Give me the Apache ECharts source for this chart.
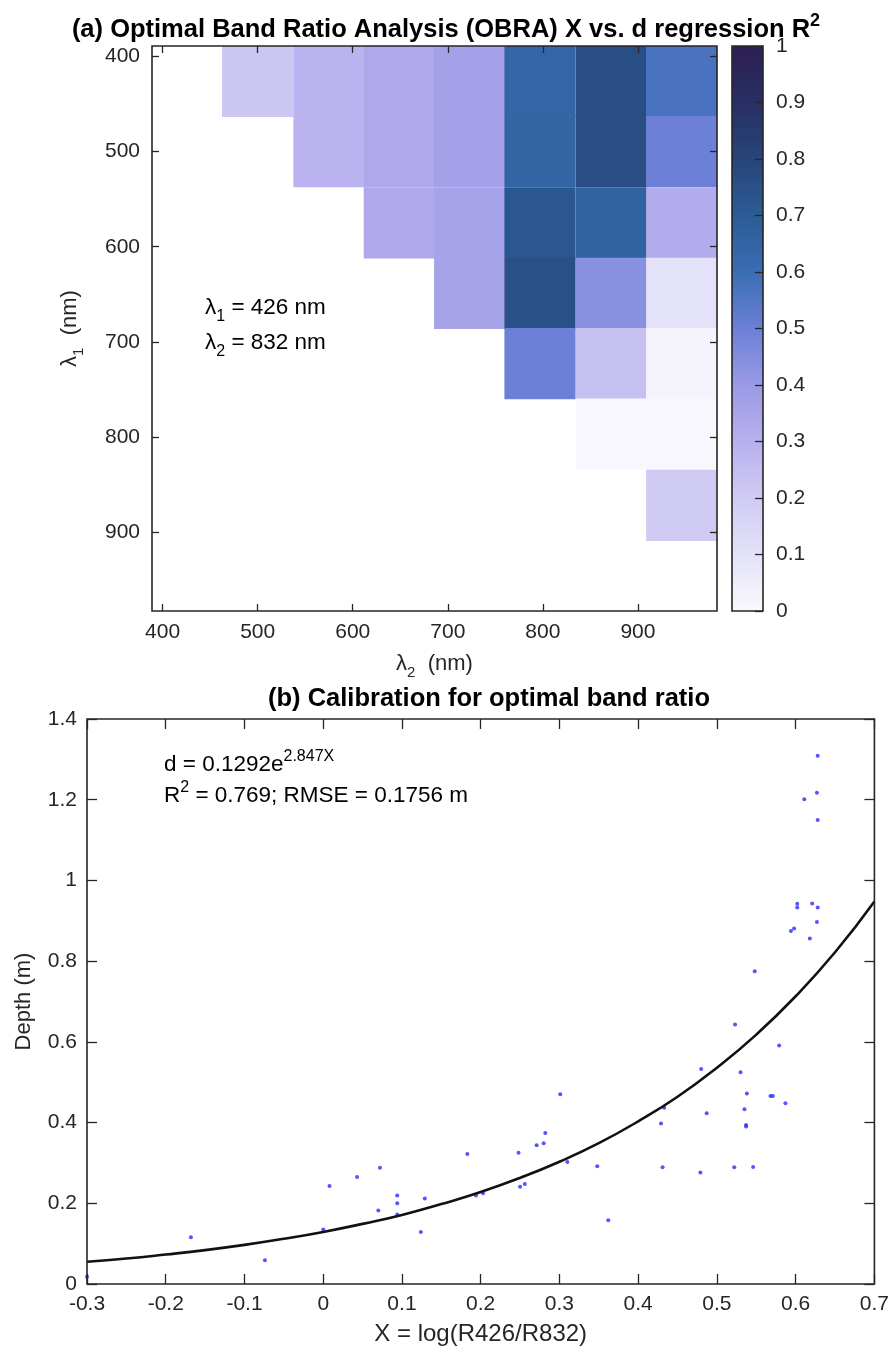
<!DOCTYPE html>
<html>
<head>
<meta charset="utf-8">
<title>OBRA</title>
<script src="https://cdn.jsdelivr.net/npm/echarts@6/dist/echarts.min.js"></script>
<style>
html, body { margin: 0; padding: 0; background: #fff; }
#main { width: 892px; height: 1349px; }
</style>
</head>
<body>
<div id="main"></div>
<script>
// band centres (nm), same set for lambda1 (rows) and lambda2 (columns)
var bands = [426, 500, 575, 649, 723, 797, 872, 946];
// R^2 of the X vs d regression, one row per lambda1, one column per lambda2
var r2Rows = [
  [null, 0.22, 0.29, 0.33, 0.37, 0.64, 0.76, 0.57],
  [null, null, 0.29, 0.33, 0.37, 0.65, 0.76, 0.50],
  [null, null, null, 0.33, 0.36, 0.72, 0.66, 0.32],
  [null, null, null, null, 0.36, 0.75, 0.44, 0.10],
  [null, null, null, null, null, 0.50, 0.24, 0.02],
  [null, null, null, null, null, null, 0.01, 0.01],
  [null, null, null, null, null, null, null, 0.20],
  [null, null, null, null, null, null, null, null]
];
var bandTicks = [400, 500, 600, 700, 800, 900];

// colormap of the colour bar, 0 -> 1
var cmap = ['#f9f9fe', '#e4e2f8', '#d0cbf3', '#b8b0ee', '#9b9ae6', '#6b80d6',
            '#3a6db3', '#2b5c95', '#27457a', '#282f63', '#2e1f52'];

// calibration samples: X = log(R426/R832), depth d (m)
var xObs = [-0.300, -0.168, -0.074, 0.000, 0.008, 0.043, 0.072, 0.070, 0.094, 0.094,
            0.094, 0.124, 0.129, 0.183, 0.194, 0.203, 0.248, 0.250, 0.256, 0.271,
            0.280, 0.282, 0.301, 0.310, 0.348, 0.362, 0.429, 0.431, 0.433, 0.479,
            0.480, 0.487, 0.522, 0.523, 0.530, 0.535, 0.537, 0.537, 0.538, 0.546,
            0.548, 0.568, 0.571, 0.579, 0.587, 0.594, 0.598, 0.602, 0.602, 0.611,
            0.618, 0.621, 0.627, 0.627, 0.628, 0.628, 0.628];
var dObs = [0.018, 0.116, 0.059, 0.135, 0.243, 0.265, 0.288, 0.182, 0.219, 0.200,
            0.172, 0.129, 0.212, 0.322, 0.219, 0.225, 0.325, 0.241, 0.248, 0.344,
            0.349, 0.374, 0.470, 0.302, 0.292, 0.158, 0.398, 0.289, 0.437, 0.276,
            0.533, 0.423, 0.289, 0.643, 0.525, 0.433, 0.394, 0.390, 0.472, 0.290,
            0.775, 0.466, 0.466, 0.591, 0.448, 0.875, 0.881, 0.942, 0.933, 1.201,
            0.856, 0.943, 1.217, 0.897, 1.309, 1.150, 0.933];

// fitted curve
var xFit = [-0.30, -0.25, -0.20, -0.15, -0.10, -0.05, 0.00, 0.05, 0.10, 0.15, 0.20,
            0.25, 0.30, 0.35, 0.40, 0.45, 0.50, 0.55, 0.60, 0.65, 0.70];
var dFit = [0.055, 0.063, 0.073, 0.084, 0.097, 0.112, 0.129, 0.149, 0.171, 0.198, 0.228,
            0.263, 0.303, 0.349, 0.403, 0.464, 0.536, 0.618, 0.713, 0.822, 0.948];

var FONT = '"Liberation Sans", Arial, Helvetica, sans-serif';
var INK = '#262626';

var step = (bands[bands.length - 1] - bands[0]) / (bands.length - 1);
var bandMin = bands[0] - step / 2;
var bandMax = bands[bands.length - 1] + step / 2;

var cells = [];
for (var i = 0; i < r2Rows.length; i++) {
  for (var j = 0; j < r2Rows[i].length; j++) {
    if (r2Rows[i][j] != null) cells.push([bands[j], bands[i], r2Rows[i][j]]);
  }
}
var obs = xObs.map(function (x, k) { return [x, dObs[k]]; });
var fit = xFit.map(function (x, k) { return [x, dFit[k]]; });

// rich styles for sub / superscripts
function richSet(size) {
  var small = Math.round(size * 0.7);
  return {
    m: { fontSize: size, fontFamily: FONT, color: INK, lineHeight: size + 10 },
    b: { fontSize: size, fontFamily: FONT, color: INK, lineHeight: size + 10, fontWeight: 'bold' },
    s: { fontSize: small, fontFamily: FONT, color: INK, lineHeight: small, verticalAlign: 'bottom' },
    p: { fontSize: small, fontFamily: FONT, color: INK, lineHeight: small, verticalAlign: 'top' },
    pb: { fontSize: small, fontFamily: FONT, color: INK, lineHeight: small, verticalAlign: 'top', fontWeight: 'bold' }
  };
}

function tickStyle(len) {
  return { show: true, inside: true, length: len, lineStyle: { color: INK, width: 1.3 } };
}
var labelStyle = { color: INK, fontSize: 21, fontFamily: FONT };
var noLine = { show: false, onZero: false };

var gridBox = { show: true, z: 5, borderColor: INK, borderWidth: 1.6, backgroundColor: 'transparent' };

var chart = echarts.init(document.getElementById('main'), null, { renderer: 'canvas' });

var option = {
  animation: false,
  backgroundColor: '#fff',
  grid: [
    Object.assign({ left: 152, top: 46, width: 565, height: 565 }, gridBox),
    Object.assign({ left: 87, top: 719, width: 792, height: 565 }, gridBox),
    Object.assign({ left: 732, top: 46, width: 31, height: 565 }, gridBox)
  ],
  xAxis: [
    {
      gridIndex: 0, type: 'value', min: bandMin, max: bandMax, position: 'bottom', z: 5,
      axisLine: noLine, splitLine: { show: false },
      axisTick: Object.assign({ customValues: bandTicks }, tickStyle(7)),
      axisLabel: Object.assign({ customValues: bandTicks, margin: 11 }, labelStyle),
      name: '{m|λ}{s|2}{m|  (nm)}', nameLocation: 'middle', nameGap: 37,
      nameTextStyle: { rich: richSet(22) }
    },
    {
      gridIndex: 0, type: 'value', min: bandMin, max: bandMax, position: 'top', z: 5,
      axisLine: noLine, splitLine: { show: false },
      axisTick: Object.assign({ customValues: bandTicks }, tickStyle(7)),
      axisLabel: { show: false }
    },
    {
      gridIndex: 1, type: 'value', min: -0.3, max: 0.7, interval: 0.1, position: 'bottom', z: 5,
      axisLine: noLine, splitLine: { show: false },
      axisTick: tickStyle(10),
      axisLabel: Object.assign({ margin: 10 }, labelStyle),
      name: 'X = log(R426/R832)', nameLocation: 'middle', nameGap: 38,
      nameTextStyle: { color: INK, fontSize: 24, fontFamily: FONT }
    },
    {
      gridIndex: 1, type: 'value', min: -0.3, max: 0.7, interval: 0.1, position: 'top', z: 5,
      axisLine: noLine, splitLine: { show: false },
      axisTick: tickStyle(10), axisLabel: { show: false }
    },
    { gridIndex: 2, type: 'value', show: false, min: 0, max: 1, axisLine: noLine }
  ],
  yAxis: [
    {
      gridIndex: 0, type: 'value', min: bandMin, max: bandMax, inverse: true, position: 'left', z: 5,
      axisLine: noLine, splitLine: { show: false },
      axisTick: Object.assign({ customValues: bandTicks }, tickStyle(7)),
      axisLabel: Object.assign({ customValues: bandTicks, margin: 12 }, labelStyle),
      name: '{m|λ}{s|1}{m|  (nm)}', nameLocation: 'middle', nameGap: 66, nameRotate: 90,
      nameTextStyle: { rich: richSet(22) }
    },
    {
      gridIndex: 0, type: 'value', min: bandMin, max: bandMax, inverse: true, position: 'right', z: 5,
      axisLine: noLine, splitLine: { show: false },
      axisTick: Object.assign({ customValues: bandTicks }, tickStyle(7)),
      axisLabel: { show: false }
    },
    {
      gridIndex: 1, type: 'value', min: 0, max: 1.4, interval: 0.2, position: 'left', z: 5,
      axisLine: noLine, splitLine: { show: false },
      axisTick: tickStyle(10),
      axisLabel: Object.assign({ margin: 10 }, labelStyle),
      name: 'Depth (m)', nameLocation: 'middle', nameGap: 52, nameRotate: 90,
      nameTextStyle: { color: INK, fontSize: 22, fontFamily: FONT }
    },
    {
      gridIndex: 1, type: 'value', min: 0, max: 1.4, interval: 0.2, position: 'right', z: 5,
      axisLine: noLine, splitLine: { show: false },
      axisTick: tickStyle(10), axisLabel: { show: false }
    },
    {
      gridIndex: 2, type: 'value', min: 0, max: 1, interval: 0.1, position: 'right', z: 6,
      axisLine: noLine, splitLine: { show: false },
      axisTick: tickStyle(8),
      axisLabel: Object.assign({ margin: 13 }, labelStyle)
    }
  ],
  visualMap: {
    type: 'continuous', min: 0, max: 1, seriesIndex: 0, dimension: 2,
    orient: 'vertical', left: 732, top: 46, itemWidth: 31, itemHeight: 565,
    padding: 0, calculable: false, hoverLink: false, realtime: false,
    inRange: { color: cmap }
  },
  graphic: [
    {
      type: 'text', x: 446, y: 30, z: 10,
      style: {
        text: '{b|(a) Optimal Band Ratio Analysis (OBRA) X vs. d regression R}{pb|2}',
        rich: richSet(25.5), align: 'center', verticalAlign: 'middle'
      }
    },
    {
      type: 'text', x: 489, y: 699, z: 10,
      style: {
        text: '{b|(b) Calibration for optimal band ratio}',
        rich: richSet(25.5), align: 'center', verticalAlign: 'middle'
      }
    },
    {
      type: 'text', x: 205, y: 308, z: 10,
      style: { text: '{m|λ}{s|1}{m| = 426 nm}', rich: richSet(22.5), align: 'left', verticalAlign: 'middle' }
    },
    {
      type: 'text', x: 205, y: 343, z: 10,
      style: { text: '{m|λ}{s|2}{m| = 832 nm}', rich: richSet(22.5), align: 'left', verticalAlign: 'middle' }
    },
    {
      type: 'text', x: 164, y: 765, z: 10,
      style: { text: '{m|d = 0.1292e}{p|2.847X}', rich: richSet(22.5), align: 'left', verticalAlign: 'middle' }
    },
    {
      type: 'text', x: 164, y: 796, z: 10,
      style: { text: '{m|R}{p|2}{m| = 0.769; RMSE = 0.1756 m}', rich: richSet(22.5), align: 'left', verticalAlign: 'middle' }
    }
  ],
  series: [
    {
      type: 'custom', xAxisIndex: 0, yAxisIndex: 0, clip: true, z: 1,
      dimensions: ['lambda2', 'lambda1', 'r2'],
      encode: { x: 0, y: 1 },
      data: cells,
      renderItem: function (params, api) {
        var x = api.value(0), y = api.value(1);
        var p0 = api.coord([x - step / 2, y - step / 2]);
        var p1 = api.coord([x + step / 2, y + step / 2]);
        return {
          type: 'rect',
          shape: {
            x: Math.min(p0[0], p1[0]) - 0.3, y: Math.min(p0[1], p1[1]) - 0.3,
            width: Math.abs(p1[0] - p0[0]) + 0.6, height: Math.abs(p1[1] - p0[1]) + 0.6
          },
          style: { fill: api.visual('color') }
        };
      }
    },
    {
      type: 'scatter', xAxisIndex: 2, yAxisIndex: 2,
      symbol: 'circle', symbolSize: 4,
      itemStyle: { color: '#2b2bff' },
      data: obs
    },
    {
      type: 'line', xAxisIndex: 2, yAxisIndex: 2,
      smooth: true, showSymbol: false, symbol: 'none',
      lineStyle: { color: '#111111', width: 2.6 },
      data: fit
    }
  ]
};

chart.setOption(option);
</script>
</body>
</html>
